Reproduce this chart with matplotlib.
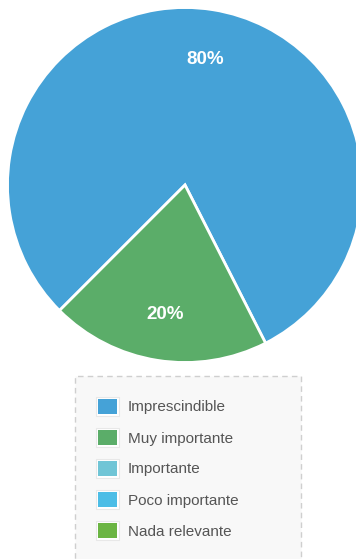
import matplotlib
matplotlib.use("Agg")
import matplotlib.pyplot as plt
from matplotlib.patches import Rectangle

# Survey answers and their share
categories = ["Imprescindible", "Muy importante", "Importante", "Poco importante", "Nada relevante"]
shares = [80, 20, 0, 0, 0]
colors = ["#45a2d7", "#5bad69", "#70c5d6", "#4cbde6", "#6bb543"]

W, H = 356, 559
fig = plt.figure(figsize=(W / 100, H / 100), dpi=100)
fig.patch.set_facecolor("white")
ax = fig.add_axes([0, 0, 1, 1])

# Pie (only non-zero slices are drawn)
vals = [v for v in shares if v > 0]
cols = [c for v, c in zip(shares, colors) if v > 0]
cx, cy, r = 185, H - 185, 177.5
wedges, texts, autotexts = ax.pie(
    vals, colors=cols, startangle=-63, counterclock=True,
    center=(cx, cy), radius=r,
    autopct=lambda p: f"{p:.0f}%", pctdistance=0.725,
    wedgeprops=dict(edgecolor="white", linewidth=2),
    textprops=dict(color="white", fontsize=13.5, fontweight="bold",
                   va="center_baseline",
                   family=["Liberation Sans", "DejaVu Sans"]),
)

# Legend panel
box_left, box_right, box_top = 75, 301, H - 376
ax.add_patch(Rectangle((box_left, -5), box_right - box_left, box_top + 5,
                       facecolor="#f8f8f8", edgecolor="#cfcfcf",
                       linestyle=(0, (4, 3)), linewidth=1, zorder=1))
row_y = [406, 437, 468, 499, 530]
for name, col, yd in zip(categories, colors, row_y):
    y = H - yd
    ax.add_patch(Rectangle((96, y - 9.5), 23, 19, facecolor="white",
                           edgecolor="#e8e8e8", linewidth=0.8, zorder=2))
    ax.add_patch(Rectangle((98, y - 7.5), 19, 15, facecolor=col,
                           edgecolor="none", zorder=3))
    ax.text(128, y, name, ha="left", va="center_baseline", fontsize=11,
            color="#555555", family=["Liberation Sans", "DejaVu Sans"], zorder=4)

ax.set_xlim(0, W)
ax.set_ylim(0, H)
ax.set_aspect("equal")
ax.axis("off")

fig.savefig("out.png", dpi=100, facecolor="white")
